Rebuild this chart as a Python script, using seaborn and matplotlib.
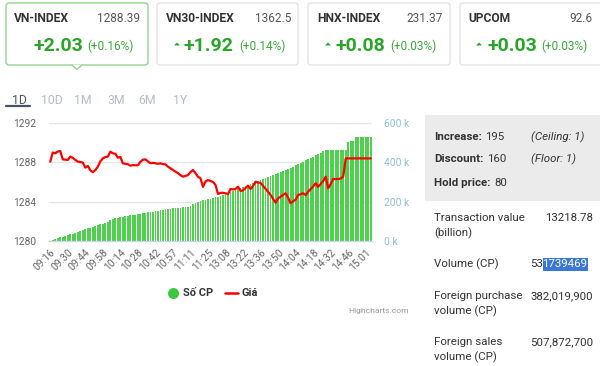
import matplotlib
matplotlib.use("Agg")
import matplotlib.pyplot as plt
import seaborn as sns
import pandas as pd
from matplotlib.patches import FancyBboxPatch, Rectangle, Polygon

# ---------------- data ----------------
tick_labels = ["09:16", "09:30", "09:44", "09:58", "10:14", "10:28", "10:42", "10:57",
               "11:11", "11:25", "13:08", "13:22", "13:36", "13:50", "14:04", "14:18",
               "14:32", "14:46", "15:01"]

volume_k = [2, 6, 10, 14, 18, 22, 26, 30, 34, 38, 42, 47, 52,
            56, 60, 64, 68, 72, 76, 80, 84, 88, 92, 98,
            108, 112, 115, 118, 120, 122, 125, 127, 130, 132,
            134, 136, 139, 141, 143, 146, 148, 150, 153, 155, 158,
            160, 161, 163, 164, 166, 167, 169, 170, 172, 173, 175,
            180, 186, 192, 197, 203,
            206, 209, 212, 215, 218, 222, 225,
            230, 235, 240, 244, 249, 254,
            259, 264, 268, 273, 278, 283, 288, 293,
            298, 304, 309, 314, 320, 325, 331, 336,
            341, 347, 352, 357, 362, 367, 373, 378,
            384, 390, 397, 403, 410, 416, 423, 429,
            436, 443, 450, 457,
            463, 463, 463, 463, 463, 463, 463, 463, 463,
            505, 508, 510,
            528, 529, 530, 530, 531, 531, 531]

price = [1288.07, 1289.00, 1288.92, 1289.10, 1289.15, 1288.30, 1288.28, 1288.24, 1288.58, 1288.45,
         1288.25, 1288.07, 1288.02, 1287.98, 1287.46, 1287.63, 1287.20, 1286.99, 1287.22, 1287.56,
         1288.10, 1288.40, 1288.54, 1288.58, 1289.08, 1288.92, 1288.87, 1288.47, 1288.55, 1287.90,
         1287.85, 1287.80, 1287.66, 1287.72, 1287.70, 1287.70, 1288.05, 1288.27, 1288.30, 1288.10,
         1287.90, 1287.95, 1287.90, 1287.85, 1287.90, 1287.82, 1287.80, 1287.56, 1287.40, 1287.22,
         1287.05, 1286.90, 1286.70, 1286.54, 1286.62, 1286.70, 1287.00, 1287.22, 1286.90, 1286.54,
         1286.38, 1285.50, 1286.05, 1286.20, 1286.10, 1286.00, 1285.70, 1284.78, 1284.90, 1284.90,
         1284.85, 1284.78, 1285.29, 1285.25, 1285.29, 1285.53, 1285.09, 1285.15, 1285.40, 1285.63,
         1285.29, 1285.60, 1286.03, 1285.95, 1285.90, 1285.60, 1285.29, 1285.00, 1284.68, 1284.30,
         1283.90, 1284.34, 1284.50, 1284.70, 1284.85, 1284.40, 1283.83, 1284.05, 1284.20, 1284.68,
         1284.75, 1284.85, 1284.68, 1285.00, 1285.29, 1285.55, 1285.87, 1285.50, 1285.80, 1286.10,
         1286.54, 1285.36, 1285.80, 1286.30, 1286.30, 1286.30, 1286.35, 1286.54, 1288.40, 1288.40,
         1288.40, 1288.40, 1288.40, 1288.40, 1288.40, 1288.40, 1288.40, 1288.40, 1288.40]

left_ticks = [1280, 1284, 1288, 1292]
right_ticks = [0, 200, 400, 600]
right_tick_labels = ["0 k", "200 k", "400 k", "600 k"]

cards = [
    ("VN-INDEX", "1288.39", "+2.03", "(+0.16%)"),
    ("VN30-INDEX", "1362.5", "+1.92", "(+0.14%)"),
    ("HNX-INDEX", "231.37", "+0.08", "(+0.03%)"),
    ("UPCOM", "92.6", "+0.03", "(+0.03%)"),
]
tabs = ["1D", "10D", "1M", "3M", "6M", "1Y"]
legend_labels = ["Số CP", "Giá"]

# ---------------- figure ----------------
sns.set_theme(style="white")
plt.rcParams['font.family'] = ['Roboto', 'DejaVu Sans']

W, H = 600, 366
fig = plt.figure(figsize=(6, 3.66), dpi=100)
fig.patch.set_facecolor('white')

ov = fig.add_axes([0, 0, 1, 1])
ov.set_xlim(0, W)
ov.set_ylim(H, 0)
ov.axis('off')

def px(v):
    return v * 0.72

GREEN = '#2aa52a'
DARK = '#333333'

# cards
card_x = [(6, 148), (157, 298), (308, 450), (460, 606)]
title_x = [14, 166, 317, 468]
last_right = [140, 291, 443, 593]
tri_x = [None, 177, 328, 479]
chg_x = [33, 184, 336, 487]
pct_x = [87, 239, 390, 541]
for i, (title, last, chg, pct) in enumerate(cards):
    x0, x1 = card_x[i]
    ec = '#93d493' if i == 0 else '#e4e4e4'
    ov.add_patch(FancyBboxPatch((x0, 3), x1 - x0, 62, boxstyle="round,pad=0,rounding_size=3",
                                fc='white', ec=ec, lw=1.0))
    ov.text(title_x[i], 19, title, fontsize=px(12), fontweight='bold', color=DARK,
            ha='left', va='center')
    ov.text(last_right[i], 19, last, fontsize=px(11.8), color='#555555', ha='right', va='center')
    ov.text(chg_x[i], 46, chg, fontsize=px(19.5), fontweight='bold', color=GREEN,
            ha='left', va='center')
    ov.text(pct_x[i], 46, pct, fontsize=px(11.8), color='#3aa83a', ha='left', va='center')
    if tri_x[i] is not None:
        t = tri_x[i]
        ov.add_patch(Polygon([(t - 3, 45.5), (t + 3, 45.5), (t, 42.5)], closed=True,
                             fc=GREEN, ec='none'))
# pointer on first card
ov.add_patch(Polygon([(72, 64.6), (77, 69.5), (82, 64.6)], closed=True, fc='white', ec='none',
                     zorder=3))
ov.plot([72, 77, 82], [65, 69.5, 65], color='#93d493', lw=1.0, zorder=4)

# tabs
tab_x = [12, 41, 74, 107, 138, 173]
for i, tb in enumerate(tabs):
    ov.text(tab_x[i], 100, tb, fontsize=px(12.3), color='#4a5263' if i == 0 else '#b3bccb',
            ha='left', va='center')
ov.plot([6, 30], [106, 106], color='#4a5263', lw=1.6)

# legend
ov.plot([173], [293], marker='o', ms=px(11), color='#3cc83c', mec='none', ls='none')
ov.text(183, 293, legend_labels[0], fontsize=px(11), fontweight='bold', color=DARK,
        ha='left', va='center')
ov.plot([225, 238], [293, 293], color='#ff0000', lw=1.8)
ov.text(242, 293, legend_labels[1], fontsize=px(11), fontweight='bold', color=DARK,
        ha='left', va='center')
ov.text(409, 311, "Highcharts.com", fontsize=px(8.5), color='#999999', ha='right', va='center')

# right panel
ov.add_patch(Rectangle((425, 115), 180, 86, fc='#ebebeb', ec='none'))
rows = [("Increase:", "195", "(Ceiling: 1)", 137),
        ("Discount:", "160", "(Floor: 1)", 159),
        ("Hold price:", "80", None, 183)]
for lab, val, extra, yy in rows:
    t = ov.text(434, yy, lab, fontsize=px(11.5), fontweight='bold', color=DARK,
                ha='left', va='center')
    ov.annotate(val, xy=(1, 0.5), xycoords=t, xytext=(2.5, 0), textcoords='offset points',
                fontsize=px(11.5), color=DARK, ha='left', va='center')
    if extra:
        ov.text(531, yy, extra, fontsize=px(11.5), style='italic', color=DARK,
                ha='left', va='center')

PS = px(11.5)
ov.text(434, 218, "Transaction value", fontsize=PS, color=DARK, ha='left', va='center')
ov.text(434, 233, "(billion)", fontsize=PS, color=DARK, ha='left', va='center')
ov.text(593, 218, "13218.78", fontsize=PS, color=DARK, ha='right', va='center')
ov.text(434, 264, "Volume (CP)", fontsize=PS, color=DARK, ha='left', va='center')
ov.add_patch(Rectangle((543, 258), 44.5, 12.5, fc='#3a78d6', ec='none'))
ov.text(587, 264, "1739469", fontsize=PS, color='white', ha='right', va='center')
ov.text(543, 264, "53", fontsize=PS, color=DARK, ha='right', va='center')
ov.text(434, 296, "Foreign purchase", fontsize=PS, color=DARK, ha='left', va='center')
ov.text(434, 311, "volume (CP)", fontsize=PS, color=DARK, ha='left', va='center')
ov.text(593, 296, "382,019,900", fontsize=PS, color=DARK, ha='right', va='center')
ov.text(434, 342, "Foreign sales", fontsize=PS, color=DARK, ha='left', va='center')
ov.text(434, 357, "volume (CP)", fontsize=PS, color=DARK, ha='left', va='center')
ov.text(593, 342, "507,872,700", fontsize=PS, color=DARK, ha='right', va='center')

# ---------------- chart ----------------
n = len(volume_k)
df = pd.DataFrame({'idx': list(range(n)), 'vol': volume_k, 'price': price})

ax = fig.add_axes([49 / W, 1 - 241 / H, (372 - 49) / W, (241 - 123) / H])
ax.patch.set_alpha(0)
sns.barplot(data=df, x='idx', y='vol', ax=ax, color='#4fd04f', saturation=1,
            width=0.72, linewidth=0)
ax.set_xlim(-0.5, n - 0.5)
ax.set_ylim(0, 600)
ax.set_yticks(right_ticks)
ax.set_yticklabels(right_tick_labels)
ax.grid(axis='y', color='#e6e6e6', lw=1)
ax.set_axisbelow(True)
ax.set_xticks(list(range(0, 7 * len(tick_labels), 7)))
ax.set_xticklabels(tick_labels, rotation=45, ha='right', rotation_mode='anchor')
ax.tick_params(axis='x', length=0, pad=px(6), labelsize=px(10.3), labelcolor='#666666')
ax.set_xlabel('')
ax.set_ylabel('')
for s in ['top', 'left', 'right']:
    ax.spines[s].set_visible(False)
ax.spines['bottom'].set_color('#ccd6eb')
ax.spines['bottom'].set_linewidth(1)

ax2 = ax.twinx()
sns.lineplot(data=df, x='idx', y='price', ax=ax2, color='#ff0000', lw=1.6)
ax2.set_ylim(1280, 1292)
ax2.set_yticks(left_ticks)
ax2.set_ylabel('')
for s in ax2.spines.values():
    s.set_visible(False)
ax2.set_xlim(-0.5, n - 0.5)

# place tick labels on the right sides after twinx
ax.yaxis.set_ticks_position('right')
ax.yaxis.set_label_position('right')
ax.tick_params(axis='y', which='both', left=False, labelleft=False, right=False,
               labelright=True, length=0, pad=px(12), labelsize=px(10.3),
               labelcolor='#8ec0ee')
ax2.yaxis.set_ticks_position('left')
ax2.yaxis.set_label_position('left')
ax2.tick_params(axis='y', which='both', right=False, labelright=False, left=False,
                labelleft=True, length=0, pad=px(13), labelsize=px(10.3),
                labelcolor='#666666')

fig.savefig('out.png', dpi=100, facecolor='white')
